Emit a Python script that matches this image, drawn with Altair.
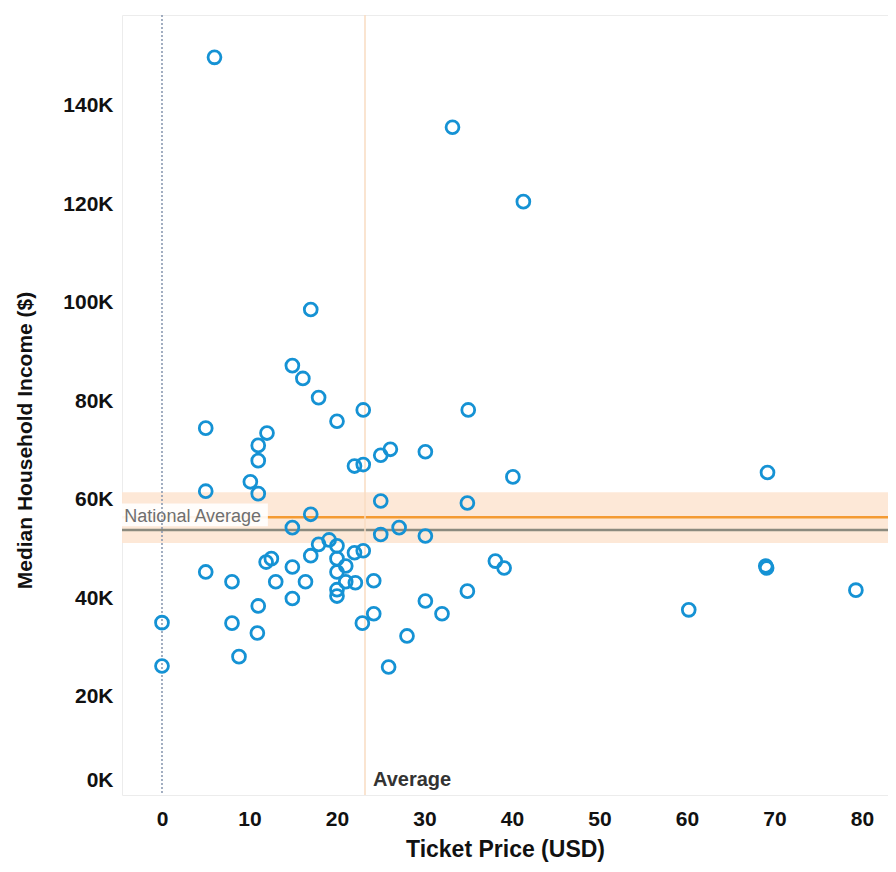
import altair as alt
import pandas as pd

# ---- data ----
ticket_price = [6, 33.2, 41.3, 17, 14.9, 16.1, 17.9, 23, 35, 20,
                5, 12, 11, 11, 26.1, 25, 30.1, 22, 23, 40.1,
                10.1, 5, 11, 25, 34.9, 17, 14.9, 27.1, 25, 30.1,
                17.9, 19.1, 20, 22, 23, 17, 20, 21, 11.9, 12.5,
                14.9, 5, 20, 8, 13, 16.4, 21, 22.1, 24.2, 20,
                20, 14.9, 34.9, 30.1, 11, 32, 24.2, 22.9, 0, 8,
                10.9, 28, 8.8, 0, 25.9, 38.1, 39.1, 69.2, 69.1, 69,
                60.2, 79.3]
median_income = [149800, 135600, 120500, 98600, 87200, 84600, 80700, 78200, 78200, 75900,
                 74500, 73500, 71000, 67900, 70200, 69000, 69700, 66800, 67100, 64600,
                 63600, 61700, 61200, 59700, 59300, 57000, 54300, 54300, 52900, 52600,
                 50900, 51800, 50600, 49200, 49600, 48600, 48000, 46500, 47300, 48000,
                 46300, 45300, 45300, 43300, 43300, 43300, 43300, 43100, 43500, 41700,
                 40400, 39900, 41400, 39400, 38400, 36800, 36800, 34900, 35000, 34900,
                 32900, 32300, 28100, 26200, 26000, 47500, 46100, 65500, 46100, 46500,
                 37600, 41600]

x_ticks = [0, 10, 20, 30, 40, 50, 60, 70, 80]
y_ticks = [0, 20000, 40000, 60000, 80000, 100000, 120000, 140000]

national_band = [51200, 61500]
national_average = 56400
overall_line = 53800
average_price = 23.2
label_box_x = [-4.57, 12.1]
label_box_y = [54600, 59200]
label_x = -4.3
average_label_y = 3000

x_domain = [-4.57, 82.97]
y_domain = [0, 158400]

W, H = 766, 780
FONT = "Liberation Sans"

df = pd.DataFrame({"ticket": ticket_price, "income": median_income})

xs = alt.Scale(domain=x_domain, nice=False, zero=False)
ys = alt.Scale(domain=y_domain, nice=False, zero=False)

x_axis = alt.Axis(values=x_ticks, title="Ticket Price (USD)", grid=False, ticks=False,
                  domain=False, labelFont=FONT, labelFontSize=21, labelFontWeight="bold",
                  labelColor="#111111", labelPadding=13, labelFlush=False,
                  titleFont=FONT, titleFontSize=23, titleFontWeight="bold",
                  titleColor="#111111", titlePadding=9)
y_axis = alt.Axis(values=y_ticks, title="Median Household Income ($)", grid=False,
                  ticks=False, domain=False, labelFont=FONT, labelFontSize=21,
                  labelFontWeight="bold", labelColor="#111111", labelPadding=9,
                  labelFlush=True, labelFlushOffset=-5,
                  labelExpr="format(datum.value / 1000, 'd') + 'K'",
                  titleFont=FONT, titleFontSize=21, titleFontWeight="bold",
                  titleColor="#111111", titlePadding=27, titleY=425)


def X(field):
    return alt.X(field, scale=xs, axis=x_axis)


def Y(field):
    return alt.Y(field, scale=ys, axis=y_axis)


band = alt.Chart(pd.DataFrame({"lo": [national_band[0]], "hi": [national_band[1]]})).mark_rect(
    color="#fde6d3", opacity=0.9
).encode(
    x=alt.value(0), x2=alt.value(W),
    y=Y("lo:Q"), y2="hi:Q"
)

orange_rule = alt.Chart(pd.DataFrame({"v": [national_average]})).mark_rule(
    color="#f49b33", strokeWidth=2.5
).encode(y=Y("v:Q"))

gray_rule = alt.Chart(pd.DataFrame({"v": [overall_line]})).mark_rule(
    color="#8b8a7e", strokeWidth=2.5
).encode(y=Y("v:Q"))

white_box = alt.Chart(pd.DataFrame({
    "x1": [label_box_x[0]], "x2": [label_box_x[1]],
    "y1": [label_box_y[0]], "y2": [label_box_y[1]]})).mark_rect(color="white", opacity=0.9).encode(
    x=X("x1:Q"), x2="x2:Q",
    y=Y("y1:Q"), y2="y2:Q"
)

nat_text = alt.Chart(pd.DataFrame({"x": [label_x], "y": [national_average], "t": ["National Average"]})).mark_text(
    align="left", baseline="middle", font=FONT, fontSize=18, color="#6f6f6f"
).encode(x=X("x:Q"), y=Y("y:Q"), text="t:N")

zero_rule = alt.Chart(pd.DataFrame({"v": [0]})).mark_rule(
    color="#8494ad", strokeWidth=1.5, strokeDash=[2, 2]
).encode(x=X("v:Q"))

avg_rule = alt.Chart(pd.DataFrame({"v": [average_price]})).mark_rule(
    color="#f9dcc2", strokeWidth=1.5
).encode(x=X("v:Q"))

avg_text = alt.Chart(pd.DataFrame({"x": [average_price], "y": [average_label_y], "t": ["Average"]})).mark_text(
    align="left", baseline="middle", dx=8, font=FONT, fontSize=20, fontWeight="bold", color="#333333"
).encode(x=X("x:Q"), y=Y("y:Q"), text="t:N")

points = alt.Chart(df).mark_point(
    shape="circle", filled=False, size=165, strokeWidth=2.8, color="#1592d4", opacity=1
).encode(
    x=X("ticket:Q"),
    y=Y("income:Q")
)

chart = alt.layer(
    band, orange_rule, gray_rule, white_box, nat_text, zero_rule, avg_rule, points, avg_text
).properties(
    width=W, height=H,
    autosize=alt.AutoSizeParams(type="none"),
    padding={"left": 114, "top": 7, "right": 0, "bottom": 69},
    background="white"
).configure_view(stroke="#ececec", strokeWidth=1)

chart.save("out.html", embed_options={"renderer": "svg", "actions": False})
